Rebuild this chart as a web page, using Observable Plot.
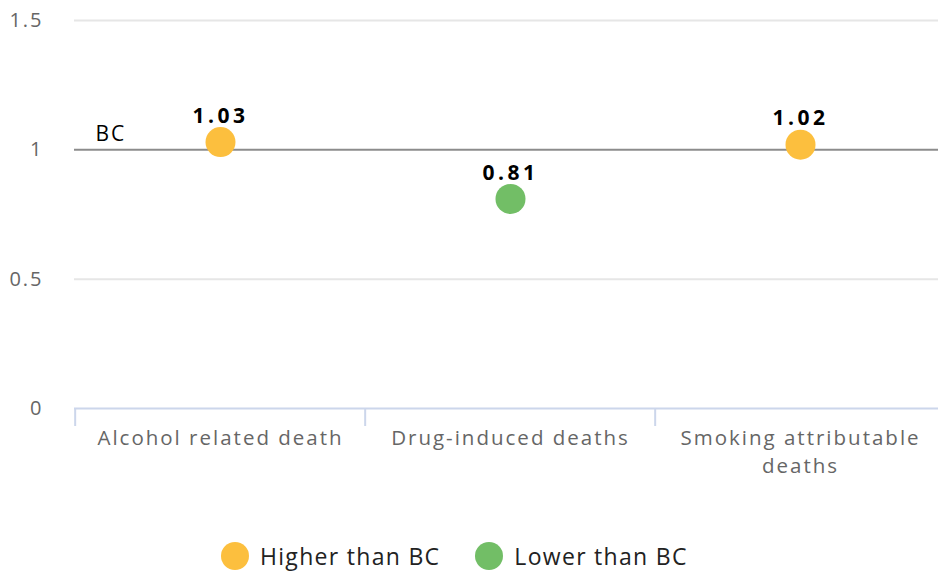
<!DOCTYPE html>
<html>
<head>
<meta charset="utf-8">
<script src="https://cdn.jsdelivr.net/npm/d3@7"></script>
<script src="https://cdn.jsdelivr.net/npm/@observablehq/plot@0.6"></script>
<style>
  html, body { margin: 0; padding: 0; background: #fff; font-family: "Open Sans", sans-serif; }
  #chart svg { display: block; }
  #chart svg text { letter-spacing: 2px; }
  #chart svg g[font-weight="bold"] text { letter-spacing: 3.5px; }
  .legend { display: flex; align-items: center; height: 36px; margin-top: 18px; padding-left: 221px; }
  .item { display: flex; align-items: center; margin-right: 35px; font-size: 23px; color: #222; letter-spacing: 1.3px; }
  .sw { width: 28px; height: 28px; border-radius: 50%; margin-right: 11px; }
</style>
</head>
<body>
<div id="chart"></div>
<script>
const categories = ["Alcohol related death", "Drug-induced deaths", "Smoking attributable deaths"];
const categoryLines = ["Alcohol related death", "Drug-induced deaths", "Smoking attributable\ndeaths"];
const values = [1.03, 0.81, 1.02];
const groups = ["Higher than BC", "Lower than BC", "Higher than BC"];
const yTicks = [0, 0.5, 1, 1.5];
const bcValue = 1;
const bcLabel = "BC";
const legendLabels = ["Higher than BC", "Lower than BC"];
const legendColors = ["#fcbf3e", "#72be66"];

const data = categories.map((c, i) => ({category: c, value: values[i], group: groups[i]}));
const x0 = 74, x1 = 946;
const bw = (x1 - x0) / categories.length;

const chart = Plot.plot({
  width: 938,
  height: 520,
  marginTop: 20,
  marginBottom: 112,
  marginLeft: 74,
  marginRight: 0,
  style: {fontFamily: "'Open Sans', sans-serif", fontSize: "20px", overflow: "hidden"},
  x: {type: "band", domain: categories, range: [x0, x1], padding: 0, label: null},
  y: {domain: [0, 1.5], range: [408, 20], label: null},
  color: {domain: legendLabels, range: legendColors},
  marks: [
    Plot.gridY(yTicks.filter(d => d !== 0 && d !== bcValue), {stroke: "#e6e6e6", strokeOpacity: 1, strokeWidth: 2}),
    Plot.axisY({ticks: yTicks, tickSize: 0, tickPadding: 31, fill: "#666", fontSize: 20, label: null, tickFormat: d => String(d)}),
    Plot.ruleY([0], {stroke: "#ccd6eb", strokeWidth: 2}),
    Plot.axisX({tickSize: 18, tickFormat: () => "", stroke: "#ccd6eb", strokeWidth: 2, strokeOpacity: 1, dx: -bw / 2, label: null}),
    Plot.axisX({tickSize: 0, tickPadding: 17, fill: "#666", fontSize: 20.5, lineHeight: 1.36, label: null,
      tickFormat: d => categoryLines[categories.indexOf(d)]}),
    Plot.ruleY([bcValue], {stroke: "#8c8c8c", strokeWidth: 2}),
    Plot.text([bcLabel], {y: () => bcValue, text: d => d, frameAnchor: "left", dx: 21, dy: -16,
      textAnchor: "start", fill: "#000", fontSize: 21}),
    Plot.dot(data, {x: "category", y: "value", fill: "group", r: 15}),
    Plot.text(data, {x: "category", y: "value", text: d => d.value.toFixed(2), dy: -26,
      fontWeight: "bold", fontSize: 21, fill: "#000"})
  ]
});
document.getElementById("chart").appendChild(chart);

const legend = document.createElement("div");
legend.className = "legend";
legendLabels.forEach((l, i) => {
  const it = document.createElement("div");
  it.className = "item";
  const sw = document.createElement("span");
  sw.className = "sw";
  sw.style.background = legendColors[i];
  const t = document.createElement("span");
  t.textContent = l;
  it.appendChild(sw); it.appendChild(t);
  legend.appendChild(it);
});
document.getElementById("chart").appendChild(legend);
</script>
</body>
</html>
